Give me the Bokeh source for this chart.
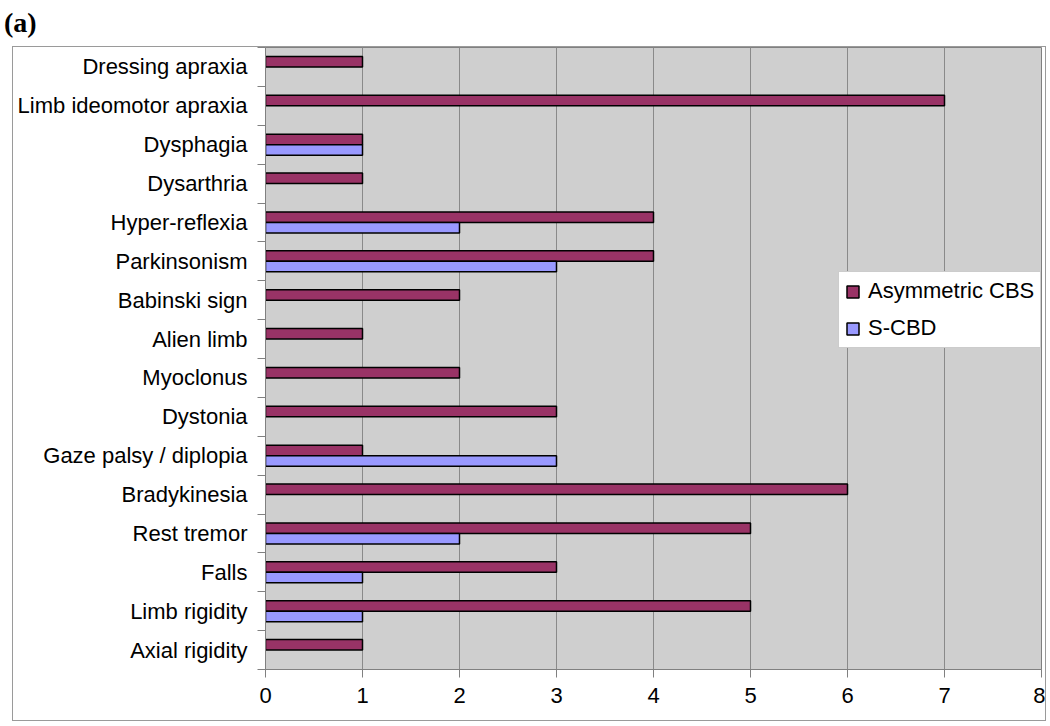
from bokeh.plotting import figure
from bokeh.models import Range1d, FixedTicker, ColumnDataSource, Div
from bokeh.layouts import column
from bokeh.embed import file_html
from bokeh.resources import INLINE

# ---- data (top to bottom as shown) ----
symptoms = [
    "Dressing apraxia", "Limb ideomotor apraxia", "Dysphagia", "Dysarthria",
    "Hyper-reflexia", "Parkinsonism", "Babinski sign", "Alien limb",
    "Myoclonus", "Dystonia", "Gaze palsy / diplopia", "Bradykinesia",
    "Rest tremor", "Falls", "Limb rigidity", "Axial rigidity",
]
asymmetric_cbs = [1, 7, 1, 1, 4, 4, 2, 1, 2, 3, 1, 6, 5, 3, 5, 1]
s_cbd = [0, 0, 1, 0, 2, 3, 0, 0, 0, 0, 3, 0, 2, 1, 1, 0]
series_names = ["Asymmetric CBS", "S-CBD"]
series_colors = ["#993366", "#9999FF"]
x_ticks = [0, 1, 2, 3, 4, 5, 6, 7, 8]

FONT = "Liberation Sans"
n = len(symptoms)
centers = [n - k - 0.5 for k in range(n)]
bar_h = 0.27

p = figure(width=1034, height=675, output_backend="svg", toolbar_location=None,
           x_range=Range1d(0, 8), y_range=Range1d(0, n),
           min_border_left=252, min_border_right=6, min_border_top=0,
           min_border_bottom=53)
p.styles = {"border": "1px solid #9a9a9a"}
p.margin = (0, 0, 0, 12)
p.background_fill_color = "#CFCFCF"
p.border_fill_color = "white"
p.outline_line_color = "#808080"
p.outline_line_width = 1

for vals, name, color, off in [(asymmetric_cbs, series_names[0], series_colors[0], bar_h / 2),
                               (s_cbd, series_names[1], series_colors[1], -bar_h / 2)]:
    ys = [c + off for c, v in zip(centers, vals) if v > 0]
    xs = [v for v in vals if v > 0]
    src = ColumnDataSource(dict(y=ys, right=xs))
    p.hbar(y="y", left=0, right="right", height=bar_h, source=src,
           fill_color=color, line_color="black", line_width=1.5,
           legend_label=name)

# x axis
p.xaxis.ticker = FixedTicker(ticks=x_ticks, minor_ticks=[])
p.xaxis.axis_line_color = "#808080"
p.xaxis.major_tick_line_color = "#808080"
p.xaxis.major_tick_out = 8
p.xaxis.major_tick_in = 0
p.xaxis.major_label_standoff = 10
p.xaxis.major_label_text_font = FONT
p.xaxis.major_label_text_font_size = "22px"
p.xaxis.major_label_text_color = "black"

# y axis
p.yaxis.ticker = FixedTicker(ticks=centers, minor_ticks=list(range(n + 1)))
p.yaxis.major_label_overrides = {float(c): s for c, s in zip(centers, symptoms)}
p.yaxis.axis_line_color = "#808080"
p.yaxis.major_tick_out = 0
p.yaxis.major_tick_in = 0
p.yaxis.minor_tick_out = 8
p.yaxis.minor_tick_in = 0
p.yaxis.minor_tick_line_color = "#808080"
p.yaxis.major_label_standoff = 10
p.yaxis.major_label_text_font = FONT
p.yaxis.major_label_text_font_size = "22px"
p.yaxis.major_label_text_color = "black"

# grid
p.xgrid.grid_line_color = "#8a8a8a"
p.xgrid.grid_line_width = 1
p.ygrid.grid_line_color = None

# legend
lg = p.legend[0]
lg.location = (573, 321)
lg.background_fill_color = "white"
lg.background_fill_alpha = 1
lg.border_line_color = "#9a9a9a"
lg.border_line_width = 1
lg.padding = 6
lg.spacing = 11
lg.margin = 0
lg.glyph_width = 15
lg.glyph_height = 15
lg.label_standoff = 8
lg.label_text_font = FONT
lg.label_text_font_size = "22px"
lg.label_text_color = "black"

title = Div(text="(a)", width=1040, height=46, margin=(0, 0, 0, 0),
            styles={"font-family": "'Liberation Serif'", "font-weight": "bold",
                    "font-size": "28px", "color": "black", "line-height": "46px",
                    "padding-left": "4px"})

layout = column(title, p, spacing=0)
open("out.html", "w").write(file_html(layout, INLINE))
